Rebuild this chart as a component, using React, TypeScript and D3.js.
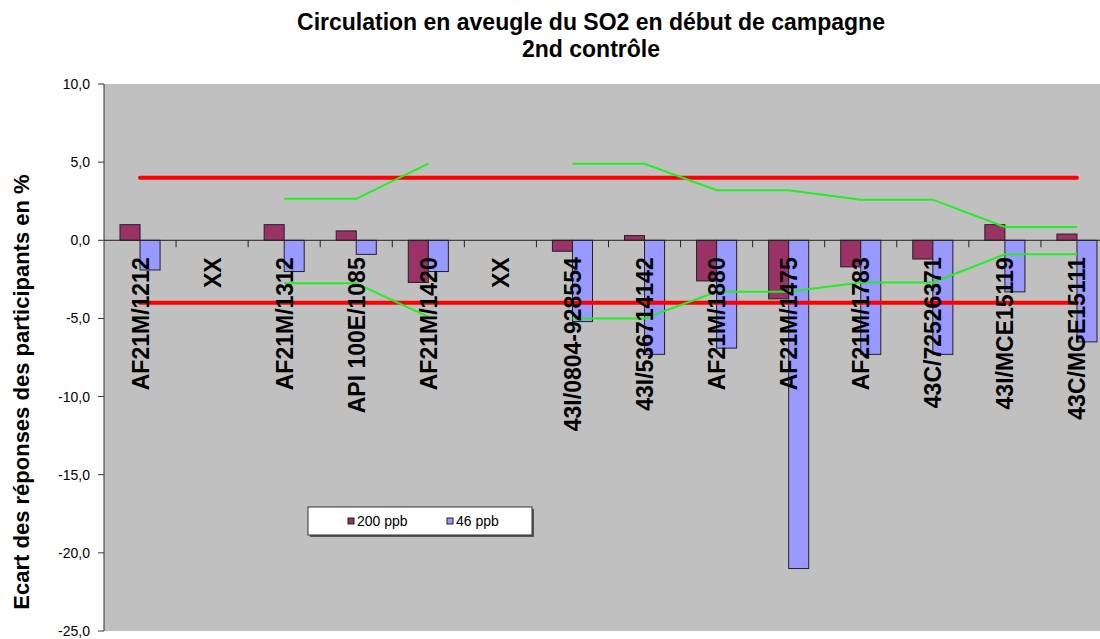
import React from "react";
import { scaleBand, scaleLinear, line } from "d3";

// categories (the two "XX" slots carry no data)
const categories = [
  "AF21M/1212",
  "XX",
  "AF21M/1312",
  "API 100E/1085",
  "AF21M/1420",
  "XX",
  "43I/0804-928554",
  "43I/536714142",
  "AF21M/1880",
  "AF21M/1475",
  "AF21M/1783",
  "43C/72526371",
  "43I/MCE15119",
  "43C/MGE15111"
];

const seriesNames = ["200 ppb", "46 ppb"];
const values200 = [1.0, null, 1.0, 0.6, -2.7, null, -0.7, 0.3, -2.6, -3.75, -1.7, -1.2, 1.0, 0.4];
const values46 = [-1.9, null, -2.0, -0.9, -2.0, null, -5.2, -7.3, -6.9, -21.0, -7.3, -7.3, -3.3, -6.5];

// limit lines
const redUpper = [4, 4, 4, 4, 4, 4, 4, 4, 4, 4, 4, 4, 4, 4];
const redLower = [-4, -4, -4, -4, -4, -4, -4, -4, -4, -4, -4, -4, -4, -4];
const greenUpper = [null, null, 2.65, 2.65, 4.9, null, 4.9, 4.9, 3.2, 3.2, 2.6, 2.6, 0.85, 0.85];
const greenLower = [null, null, -2.75, -2.75, -4.9, null, -5.0, -5.0, -3.3, -3.3, -2.7, -2.7, -0.9, -0.9];

const yTicks = [10, 5, 0, -5, -10, -15, -20, -25];

const W = 1100;
const H = 639;
const plot = { left: 104, right: 1113, top: 84, bottom: 631 };
const colors = ["#993366", "#9999FF"];
const FONT = "'Liberation Sans', Arial, sans-serif";

export default function App() {
  const x = scaleBand<number>()
    .domain(categories.map((_, i) => i))
    .range([plot.left, plot.right])
    .paddingInner(0.444)
    .paddingOuter(0.222);
  const sub = scaleBand<number>().domain([0, 1]).range([0, x.bandwidth()]);
  const y = scaleLinear().domain([-25, 10]).range([plot.bottom, plot.top]);
  const cx = (i: number) => (x(i) as number) + x.bandwidth() / 2;
  const step = x.step();
  const x0 = plot.left;

  const lineGen = line<number | null>()
    .defined(d => d !== null)
    .x((_, i) => cx(i))
    .y(d => y(d as number));

  const bars = [values200, values46];

  return (
    <svg width={W} height={H} style={{ position: "absolute", left: 0, top: 0 }}>
      <rect x={0} y={0} width={W} height={H} fill="#fff" />
      <text x={591} y={30} textAnchor="middle" fontFamily={FONT} fontWeight="bold" fontSize={23}>
        Circulation en aveugle du SO2 en début de campagne
      </text>
      <text x={591} y={57} textAnchor="middle" fontFamily={FONT} fontWeight="bold" fontSize={23}>
        2nd contrôle
      </text>

      <rect
        x={plot.left}
        y={plot.top}
        width={plot.right - plot.left}
        height={plot.bottom - plot.top}
        fill="#C0C0C0"
      />

      {/* y axis */}
      <line x1={plot.left} x2={plot.left} y1={plot.top} y2={plot.bottom} stroke="#333" />
      {yTicks.map(t => (
        <g key={t}>
          <line x1={plot.left - 6} x2={plot.left} y1={y(t)} y2={y(t)} stroke="#333" />
          <text
            x={plot.left - 14}
            y={y(t) + 5}
            textAnchor="end"
            fontFamily={FONT}
            fontSize={14}
            fill="#000"
          >
            {t.toFixed(1).replace(".", ",")}
          </text>
        </g>
      ))}
      <text
        transform={`translate(29,392) rotate(-90)`}
        textAnchor="middle"
        fontFamily={FONT}
        fontWeight="bold"
        fontSize={22}
      >
        Ecart des réponses des participants en %
      </text>

      {/* bars */}
      {bars.map((vals, s) =>
        vals.map((v, i) =>
          v === null ? null : (
            <rect
              key={`${s}-${i}`}
              x={(x(i) as number) + (sub(s) as number)}
              y={y(Math.max(0, v))}
              width={sub.bandwidth()}
              height={Math.abs(y(v) - y(0))}
              fill={colors[s]}
              stroke="#222"
              strokeWidth={1}
            />
          )
        )
      )}

      {/* category axis at zero */}
      <line x1={plot.left} x2={plot.right} y1={y(0)} y2={y(0)} stroke="#222" />
      {categories.slice(1).map((_, k) => (
        <line
          key={k}
          x1={x0 + (k + 1) * step}
          x2={x0 + (k + 1) * step}
          y1={y(0)}
          y2={y(0) + 7}
          stroke="#222"
        />
      ))}

      {/* limit lines */}
      <path d={lineGen(redUpper) || ""} fill="none" stroke="#FF0000" strokeWidth={4} strokeLinecap="round" />
      <path d={lineGen(redLower) || ""} fill="none" stroke="#FF0000" strokeWidth={4} strokeLinecap="round" />
      <path d={lineGen(greenUpper) || ""} fill="none" stroke="#22EE22" strokeWidth={2} />
      <path d={lineGen(greenLower) || ""} fill="none" stroke="#22EE22" strokeWidth={2} />

      {/* category labels */}
      {categories.map((c, i) => (
        <text
          key={i}
          transform={`translate(${cx(i) + 8.5},${y(0) + 17}) rotate(-90)`}
          textAnchor="end"
          fontFamily={FONT}
          fontWeight="bold"
          fontSize={23}
        >
          {c}
        </text>
      ))}

      {/* legend */}
      <rect x={310} y={509} width={224} height={28} fill="#555" />
      <rect x={308} y={507} width={224} height={28} fill="#fff" stroke="#333" />
      {seriesNames.map((n, s) => (
        <g key={n} transform={`translate(${348 + s * 99},518)`}>
          <rect x={0} y={0} width={6} height={6} fill={colors[s]} stroke="#222" />
          <text x={9} y={7.5} fontFamily={FONT} fontSize={14}>
            {n}
          </text>
        </g>
      ))}
    </svg>
  );
}
